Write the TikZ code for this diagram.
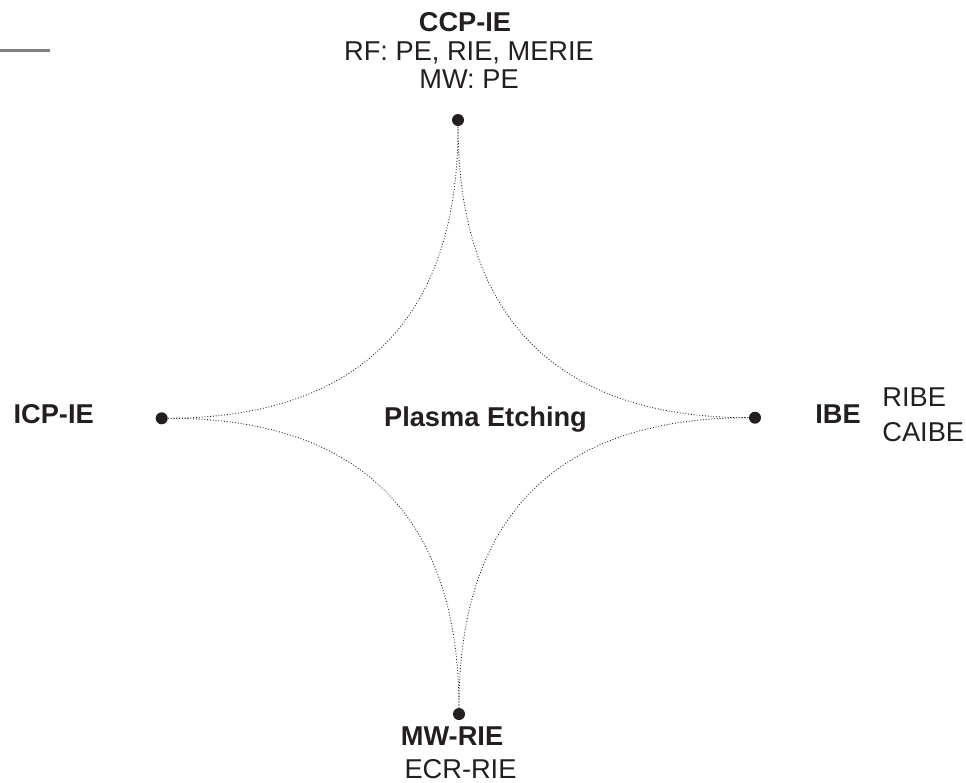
\documentclass[tikz,border=0pt]{standalone}
\usepackage{fontspec}
\setmainfont{Liberation Sans}
\usetikzlibrary{calc}
\definecolor{ink}{HTML}{231F20}

\begin{document}
\begin{tikzpicture}[x=0.02cm,y=-0.02cm,
        font=\fontsize{15.5}{16}\selectfont,text=ink,
        knot/.style={circle,fill=ink,inner sep=0pt,minimum size=0.24cm},
        lab/.style={inner sep=0pt,anchor=base},
        hdlab/.style={lab,font=\fontsize{15.5}{16}\selectfont\bfseries},
        etchcurve/.style={draw=ink,line width=0.5pt,dash pattern=on 0.5pt off 1.1pt}]
                \useasboundingbox (0,0) rectangle (966,782);
                \draw[gray,line width=1.7pt] (0,50.7) -- (50,50.7);
                \coordinate (c) at (458.5,417.5);
                \node[knot] (ccp) at (458,120) {};
                \node[knot] (ibe) at (755,417.7) {};
                \node[knot] (mw) at (459,714) {};
                \node[knot] (icp) at (161.7,418.3) {};
                \draw[etchcurve] (ccp) .. controls ($(ccp)!2/3!(c)$) and ($(ibe)!2/3!(c)$) .. (ibe);
                \draw[etchcurve] (ibe) .. controls ($(ibe)!2/3!(c)$) and ($(mw)!2/3!(c)$) .. (mw);
                \draw[etchcurve] (mw) .. controls ($(mw)!2/3!(c)$) and ($(icp)!2/3!(c)$) .. (icp);
                \draw[etchcurve] (icp) .. controls ($(icp)!2/3!(c)$) and ($(ccp)!2/3!(c)$) .. (ccp);
                \node[hdlab] (pe) at (485.5,426.7) {Plasma Etching};
                \node[hdlab] (ccplab) at (465,31.7) {CCP-IE};
                \node[lab] (rflab) at (469,60) {RF: PE, RIE, MERIE};
                \node[lab] (mwpelab) at (469,88.3) {MW: PE};
                \node[hdlab] (icplab) at (53.7,423.3) {ICP-IE};
                \node[hdlab] (ibelab) at (838,423.3) {IBE};
                \node[lab,anchor=base west] (ribelab) at (882,406.7) {RIBE};
                \node[lab,anchor=base west] (caibelab) at (882,441.7) {CAIBE};
                \node[hdlab] (mwlab) at (452,745) {MW-RIE};
                \node[lab] (ecrlab) at (460.5,778.5) {ECR-RIE};
        \end{tikzpicture}
\end{document}
